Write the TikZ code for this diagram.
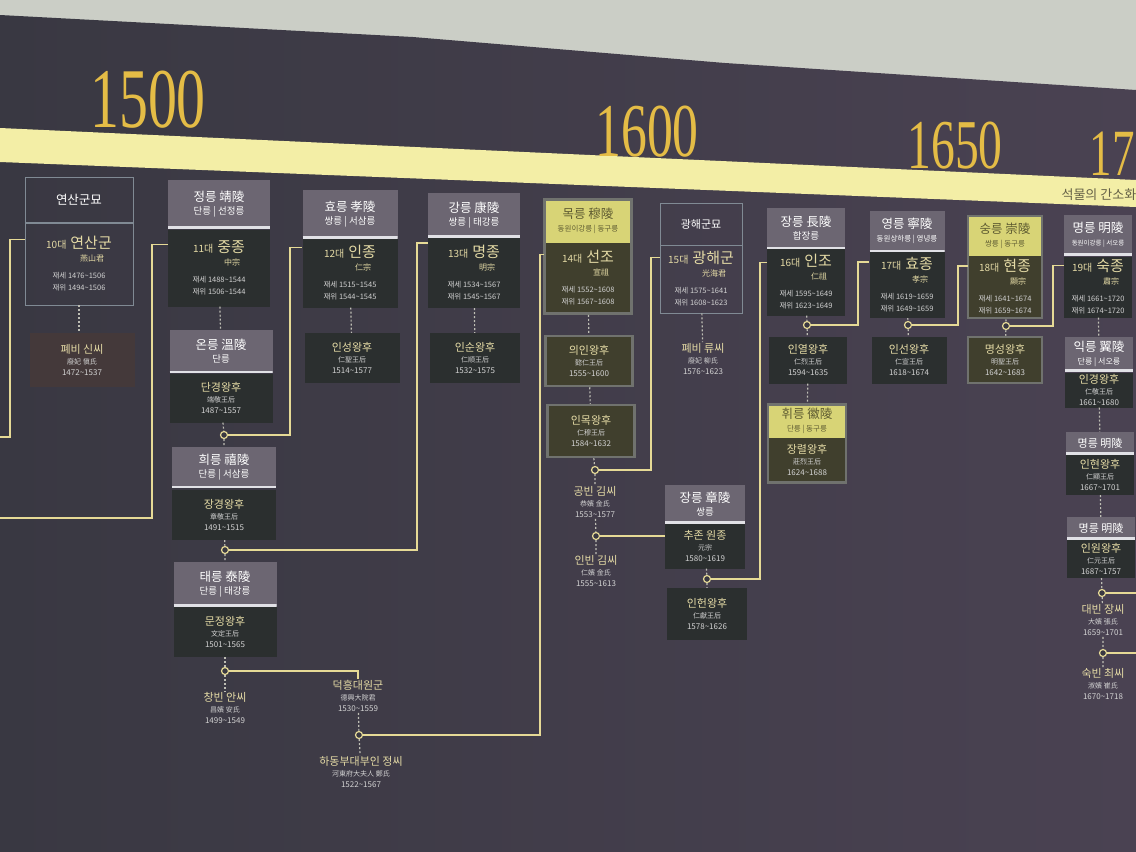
\documentclass[tikz,border=0pt]{standalone}
\usepackage{fontspec}
\setmainfont{Noto Sans CJK KR}
\newfontfamily\yearfont{Liberation Serif}
\usetikzlibrary{positioning, fit, calc}
\definecolor{wallgray}{RGB}{203,206,198}
\definecolor{boardL}{RGB}{57,56,66}
\definecolor{boardR}{RGB}{74,66,82}
\definecolor{bandyel}{RGB}{243,238,166}
\definecolor{bandtxt}{RGB}{100,96,70}
\definecolor{yeargold}{RGB}{228,188,70}
\definecolor{hdrgray}{RGB}{108,102,114}
\definecolor{hdrline}{RGB}{225,225,230}
\definecolor{bodydark}{RGB}{43,47,47}
\definecolor{olivedark}{RGB}{64,63,45}
\definecolor{hdryel}{RGB}{216,212,118}
\definecolor{yhdrtxt}{RGB}{95,92,50}
\definecolor{framegray}{RGB}{112,114,110}
\definecolor{linkyel}{RGB}{230,218,150}
\definecolor{nameyel}{RGB}{228,218,165}
\definecolor{txtgray}{RGB}{210,210,210}
\definecolor{kingray}{RGB}{190,190,180}
\definecolor{outlinegray}{RGB}{128,138,148}
\definecolor{brownbox}{RGB}{68,57,58}

\newcommand{\fsz}[1]{\fontsize{#1}{#1}\selectfont}
\newcommand{\kingtxt}[7]{{\fsz{10}#1대}\hspace{4pt}{\fsz{15}#2}\\[2pt]\hspace*{26pt}{\fsz{8}#3}\\[6pt]{\color{txtgray}\fsz{7.5}재세 #4\textasciitilde#5}\\[1pt]{\color{txtgray}\fsz{7.5}재위 #6\textasciitilde#7}}
\newcommand{\spousetxt}[4]{{\fsz{11}#1}\\{\color{txtgray}\fsz{7}#2}\\{\color{txtgray}\fsz{8}#3\textasciitilde#4}}
\newcommand{\hdrtxt}[3][9.5]{{\fsz{12.5}#2}\\[1pt]{\fsz{#1}#3}}
\newcommand{\yeartxt}[2]{\scalebox{.68}[1]{\yearfont\fsz{#1}#2}}

\begin{document}
\begin{tikzpicture}[x=1pt, y=-1pt,
  hdr/.style={fill=hdrgray, text=white, inner sep=0pt, align=center,
    font=\fontsize{9}{12}\selectfont,
    path picture={\draw[hdrline, line width=4pt] (path picture bounding box.south west) -- (path picture bounding box.south east);}},
  yhdr/.style={fill=hdryel, text=yhdrtxt, inner sep=0pt, align=center,
    font=\fontsize{9}{12}\selectfont},
  bodybox/.style={fill=#1, text=nameyel, inner sep=0pt, align=center,
    font=\fontsize{8}{11}\selectfont},
  bodybox/.default=bodydark,
  outlbox/.style={draw=outlinegray, line width=0.8pt, text=nameyel,
    inner sep=0pt, align=center, font=\fontsize{8}{11}\selectfont},
  framed/.style={draw=framegray, line width=2.5pt},
  boxsize/.style 2 args={minimum width=#1, minimum height=#2},
  txtonly/.style={text=nameyel, align=center, inner sep=1pt,
    font=\fontsize{8}{11}\selectfont},
  joint/.style={circle, draw=linkyel, fill=boardL, line width=1.2pt,
    inner sep=0pt, minimum size=7pt},
  lineage/.style={draw=linkyel, line width=1.6pt},
  kin/.style={draw=kingray, line width=1.2pt, dash pattern=on 2pt off 2pt},
  yearlbl/.style={text=yeargold, inner sep=0pt}
]
\clip (0,0) rectangle (1136,852);
% wall, board and time band
\fill[wallgray] (0,0) rectangle (1136,852);
\shade[left color=boardL, right color=boardR] (0,15) -- (413,37) -- (725,63)
  -- (1136,90) -- (1136,852) -- (0,852) -- cycle;
\fill[bandyel] (0,128) -- (1136,180) -- (1136,207) -- (0,162) -- cycle;
\node[yearlbl] (y1500) at (148,100) {\yeartxt{85}{1500}};
\node[yearlbl] (y1600) at (647,132) {\yeartxt{76}{1600}};
\node[yearlbl] (y1650) at (955,146) {\yeartxt{70}{1650}};
\node[yearlbl, anchor=east] (y1700) at (1135,154) {\yeartxt{66}{17}};
\node[text=bandtxt, anchor=west, font=\fsz{13}] (banner) at (1058,195) {석물의 간소화};

% 10 yeonsangun
\node[outlbox, text=white, boxsize={108}{45}] (yeonsanH) at (79,200) {\fsz{12.5}연산군묘};
\node[outlbox, boxsize={108}{82}] (yeonsan) at (79,264)
  {\kingtxt{10}{연산군}{燕山君}{1476}{1506}{1494}{1506}};
\node[bodybox=brownbox, boxsize={105}{54}] (sinssi) at (82,360)
  {\spousetxt{폐비 신씨}{廢妃 愼氏}{1472}{1537}};

% 11 jungjong
\node[hdr, boxsize={102}{48}] (jeongH) at (219,204) {\hdrtxt{정릉 靖陵}{단릉 | 선정릉}};
\node[bodybox, boxsize={102}{77}] (jungjong) at (219,268)
  {\kingtxt{11}{중종}{中宗}{1488}{1544}{1506}{1544}};
\node[hdr, boxsize={103}{43}] (onH) at (221,351) {\hdrtxt{온릉 溫陵}{단릉}};
\node[bodybox, boxsize={103}{49}] (dangyeong) at (221,398)
  {\spousetxt{단경왕후}{端敬王后}{1487}{1557}};
\node[joint] (j1) at (224,435) {};
\node[hdr, boxsize={104}{41}] (huiH) at (224,467) {\hdrtxt{희릉 禧陵}{단릉 | 서삼릉}};
\node[bodybox, boxsize={104}{50}] (janggyeong) at (224,515)
  {\spousetxt{장경왕후}{章敬王后}{1491}{1515}};
\node[joint] (j2) at (225,550) {};
\node[hdr, boxsize={103}{44}] (taeH) at (225,584) {\hdrtxt{태릉 泰陵}{단릉 | 태강릉}};
\node[bodybox, boxsize={103}{50}] (munjeong) at (225,632)
  {\spousetxt{문정왕후}{文定王后}{1501}{1565}};
\node[joint] (j3) at (225,671) {};
\node[txtonly] (changbin) at (225,708) {\spousetxt{창빈 안씨}{昌嬪 安氏}{1499}{1549}};
\node[txtonly] (deokheung) at (358,696) {\spousetxt{덕흥대원군}{德興大院君}{1530}{1559}};
\node[joint] (j4) at (359,735) {};
\node[txtonly] (hadong) at (361,772)
  {\spousetxt{하동부대부인 정씨}{河東府大夫人 鄭氏}{1522}{1567}};

% 12 injong
\node[hdr, boxsize={95}{48}] (hyoH) at (350,214) {\hdrtxt{효릉 孝陵}{쌍릉 | 서삼릉}};
\node[bodybox, boxsize={95}{69}] (injong) at (350,273)
  {\kingtxt{12}{인종}{仁宗}{1515}{1545}{1544}{1545}};
\node[bodybox, boxsize={95}{50}] (inseong) at (352,358)
  {\spousetxt{인성왕후}{仁聖王后}{1514}{1577}};

% 13 myeongjong
\node[hdr, boxsize={92}{44}] (gangH) at (474,215) {\hdrtxt{강릉 康陵}{쌍릉 | 태강릉}};
\node[bodybox, boxsize={92}{70}] (myeongjong) at (474,273)
  {\kingtxt{13}{명종}{明宗}{1534}{1567}{1545}{1567}};
\node[bodybox, boxsize={90}{50}] (insun) at (475,358)
  {\spousetxt{인순왕후}{仁順王后}{1532}{1575}};

% 14 seonjo
\node[yhdr, boxsize={87}{43}] (mokH) at (588,221) {\hdrtxt[7.5]{목릉 穆陵}{동원이강릉 | 동구릉}};
\node[bodybox=olivedark, boxsize={87}{71}] (seonjo) at (588,278)
  {\kingtxt{14}{선조}{宣祖}{1552}{1608}{1567}{1608}};
\node[framed, inner sep=0pt, fit=(mokH)(seonjo)] (mokF) {};
\node[bodybox=olivedark, framed, boxsize={87}{50}] (uiin) at (589,361)
  {\spousetxt{의인왕후}{懿仁王后}{1555}{1600}};
\node[bodybox=olivedark, framed, boxsize={87}{52}] (inmok) at (591,431)
  {\spousetxt{인목왕후}{仁穆王后}{1584}{1632}};
\node[joint] (j5) at (595,470) {};
\node[txtonly] (gongbin) at (595,502) {\spousetxt{공빈 김씨}{恭嬪 金氏}{1553}{1577}};
\node[joint] (j6) at (596,536) {};
\node[txtonly] (inbin) at (596,571) {\spousetxt{인빈 김씨}{仁嬪 金氏}{1555}{1613}};

% 15 gwanghaegun
\node[outlbox, text=white, boxsize={82}{42}] (gwanghaeH) at (701,224) {\fsz{11}광해군묘};
\node[outlbox, boxsize={82}{68}] (gwanghae) at (701,279)
  {\kingtxt{15}{광해군}{光海君}{1575}{1641}{1608}{1623}};
\node[txtonly] (ryussi) at (703,359) {\spousetxt{폐비 류씨}{廢妃 柳氏}{1576}{1623}};

% wonjong
\node[hdr, boxsize={80}{38}] (jangH) at (705,504) {\hdrtxt{장릉 章陵}{쌍릉}};
\node[bodybox, boxsize={80}{45}] (wonjong) at (705,546)
  {\spousetxt{추존 원종}{元宗}{1580}{1619}};
\node[joint] (j7) at (707,579) {};
\node[bodybox, boxsize={80}{52}] (inheon) at (707,614)
  {\spousetxt{인헌왕후}{仁獻王后}{1578}{1626}};

% 16 injo
\node[hdr, boxsize={78}{41}] (jangH2) at (806,228) {\hdrtxt{장릉 長陵}{합장릉}};
\node[bodybox, boxsize={78}{67}] (injo) at (806,282)
  {\kingtxt{16}{인조}{仁祖}{1595}{1649}{1623}{1649}};
\node[joint] (j8) at (807,325) {};
\node[bodybox, boxsize={78}{47}] (inyeol) at (808,360)
  {\spousetxt{인열왕후}{仁烈王后}{1594}{1635}};
\node[yhdr, boxsize={78}{33}] (hwiH) at (807,421) {\hdrtxt[7.5]{휘릉 徽陵}{단릉 | 동구릉}};
\node[bodybox=olivedark, boxsize={78}{45}] (jangryeol) at (807,460)
  {\spousetxt{장렬왕후}{莊烈王后}{1624}{1688}};
\node[framed, inner sep=0pt, fit=(hwiH)(jangryeol)] (hwiF) {};

% 17 hyojong
\node[hdr, boxsize={75}{41}] (yeongH) at (907,231) {\hdrtxt[7.5]{영릉 寧陵}{동원상하릉 | 영녕릉}};
\node[bodybox, boxsize={75}{66}] (hyojong) at (907,285)
  {\kingtxt{17}{효종}{孝宗}{1619}{1659}{1649}{1659}};
\node[joint] (j9) at (908,325) {};
\node[bodybox, boxsize={75}{47}] (inseon) at (909,360)
  {\spousetxt{인선왕후}{仁宣王后}{1618}{1674}};

% 18 hyeonjong
\node[yhdr, boxsize={74}{40}] (sungH) at (1005,236) {\hdrtxt[7.5]{숭릉 崇陵}{쌍릉 | 동구릉}};
\node[bodybox=olivedark, boxsize={74}{62}] (hyeonjong) at (1005,287)
  {\kingtxt{18}{현종}{顯宗}{1641}{1674}{1659}{1674}};
\node[framed, inner sep=0pt, fit=(sungH)(hyeonjong)] (sungF) {};
\node[joint] (j10) at (1006,326) {};
\node[bodybox=olivedark, framed, boxsize={74}{46}] (myeongseong) at (1005,360)
  {\spousetxt{명성왕후}{明聖王后}{1642}{1683}};

% 19 sukjong
\node[hdr, boxsize={68}{40}] (myeongH) at (1098,235) {\hdrtxt[6.5]{명릉 明陵}{동원이강릉 | 서오릉}};
\node[bodybox, boxsize={68}{61}] (sukjong) at (1098,287)
  {\kingtxt{19}{숙종}{肅宗}{1661}{1720}{1674}{1720}};
\node[hdr, boxsize={68}{34}] (ikH) at (1099,354) {\hdrtxt[8]{익릉 翼陵}{단릉 | 서오릉}};
\node[bodybox, boxsize={68}{35}] (ingyeong) at (1099,390)
  {\spousetxt{인경왕후}{仁敬王后}{1661}{1680}};
\node[hdr, boxsize={68}{22}] (myeongH1) at (1100,443) {\fsz{11}명릉 明陵};
\node[bodybox, boxsize={68}{40}] (inhyeon) at (1100,475)
  {\spousetxt{인현왕후}{仁顯王后}{1667}{1701}};
\node[hdr, boxsize={68}{22}] (myeongH2) at (1101,528) {\fsz{11}명릉 明陵};
\node[bodybox, boxsize={68}{38}] (inwon) at (1101,559)
  {\spousetxt{인원왕후}{仁元王后}{1687}{1757}};
\node[joint] (j11) at (1102,593) {};
\node[txtonly] (daebin) at (1103,620) {\spousetxt{대빈 장씨}{大嬪 張氏}{1659}{1701}};
\node[joint] (j12) at (1103,653) {};
\node[txtonly] (sukbin) at (1103,684) {\spousetxt{숙빈 최씨}{淑嬪 崔氏}{1670}{1718}};

% free ends at the edges
\coordinate (edgeA) at (0,437);
\coordinate (edgeB) at (0,518);
\coordinate (edgeC) at (1136,593);
\coordinate (edgeD) at (1136,653);

% spouse links
\draw[kin] (yeonsan.south) -- (yeonsan.south |- sinssi.north);
\draw[kin] (jungjong) -- (onH);
\draw[kin] (dangyeong) -- (j1) -- (huiH);
\draw[kin] (janggyeong) -- (j2) -- (taeH);
\draw[kin] (munjeong) -- (j3) -- (changbin);
\draw[kin] (injong) -- (inseong);
\draw[kin] (myeongjong) -- (insun);
\draw[kin] (deokheung) -- (j4) -- (hadong);
\draw[kin] (mokF) -- (uiin) -- (inmok) -- (j5) -- (gongbin) -- (j6) -- (inbin);
\draw[kin] (gwanghae) -- (ryussi);
\draw[kin] (wonjong) -- (j7) -- (inheon);
\draw[kin] (injo) -- (j8) -- (inyeol) -- (hwiF);
\draw[kin] (hyojong) -- (j9) -- (inseon);
\draw[kin] (sungF) -- (j10) -- (myeongseong);
\draw[kin] (sukjong) -- (ikH);
\draw[kin] (ingyeong) -- (myeongH1);
\draw[kin] (inhyeon) -- (myeongH2);
\draw[kin] (inwon) -- (j11) -- (daebin) -- (j12) -- (sukbin);

% descent lines
\draw[lineage] (edgeA) -- ++(10,0) |- ([yshift=-17]yeonsan.north west);
\draw[lineage] (edgeB) -- ++(152,0) |- ([yshift=-15]jungjong.north west);
\draw[lineage] (j1) -- ++(66,0) |- ([yshift=-9]injong.north west);
\draw[lineage] (j2) -- ++(192,0) |- ([yshift=-5]myeongjong.north west);
\draw[lineage] (j3) -| (deokheung.north);
\draw[lineage] (j4) -- ++(181,0) |- ([yshift=-12]seonjo.north west);
\draw[lineage] (j5) -- ++(56,0) |- ([yshift=-13]gwanghae.north west);
\draw[lineage] (j6) -- (j6 -| wonjong.west);
\draw[lineage] (j7) -- ++(53,0) |- ([yshift=-14]injo.north west);
\draw[lineage] (j8) -- ++(51,0) |- ([yshift=-10]hyojong.north west);
\draw[lineage] (j9) -- ++(50,0) |- ([yshift=-10]hyeonjong.north west);
\draw[lineage] (j10) -- ++(47,0) |- ([yshift=-9]sukjong.north west);
\draw[lineage] (j11) -- (edgeC);
\draw[lineage] (j12) -- (edgeD);
\end{tikzpicture}
\end{document}
